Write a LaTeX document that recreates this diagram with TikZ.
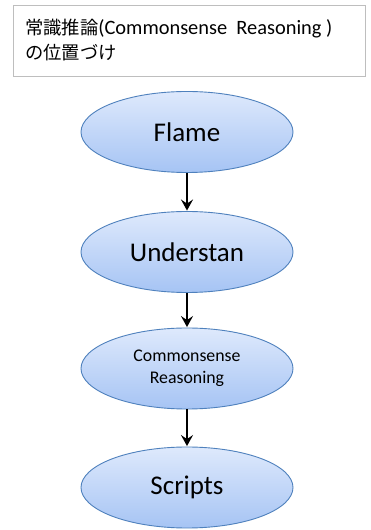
\documentclass[tikz,border=0pt]{standalone}
\usepackage{fontspec}
\setmainfont{Carlito}
\newfontfamily\cjk{Noto Sans CJK JP}
\usetikzlibrary{shapes.geometric,arrows.meta}
\definecolor{ellborder}{RGB}{79,129,189}
\definecolor{elltop}{RGB}{222,233,252}
\definecolor{ellbot}{RGB}{166,196,244}
\definecolor{boxgray}{RGB}{190,190,190}
\tikzset{
  ell/.style={ellipse, draw=ellborder, line width=0.9pt, top color=elltop, bottom color=ellbot,
    minimum width=212pt, minimum height=81pt, inner sep=0pt, align=center, text=black},
  big/.style={font=\fontsize{27}{32}\selectfont},
  small/.style={font=\fontsize{17.8}{22}\selectfont},
  flow/.style={-{Stealth[length=11pt,width=12pt,inset=4pt]}, line width=2.8pt, black, shorten >=0.5pt}
}
\newcommand{\jpt}[1]{{\fontsize{18.3}{25}\cjk #1}}
\begin{document}
\begin{tikzpicture}[x=1pt,y=1pt]
\useasboundingbox (0,0) rectangle (371,530);
\fill[white] (0,0) rectangle (371,530);
\node[draw=boxgray, line width=0.8pt, minimum width=352pt, minimum height=71pt, anchor=north west] (box) at (13,525) {};
\node[anchor=west, align=left, inner sep=0pt, font=\fontsize{20.4}{25}\selectfont] (title) at (25,490)
  {\jpt{常識推論}(Commonsense\ \ Reasoning )\\\jpt{の位置づけ}};
\node[ell, big] (flame) at (187,398) {Flame};
\node[ell, big] (under) at (187,278) {Understan};
\node[ell, small] (common) at (187,161.5) {Commonsense\\Reasoning};
\node[ell, big] (scripts) at (187,42.5) {Scripts};
\draw[flow] (flame) -- (under);
\draw[flow] (under) -- (common);
\draw[flow] (common) -- (scripts);
\end{tikzpicture}
\end{document}
